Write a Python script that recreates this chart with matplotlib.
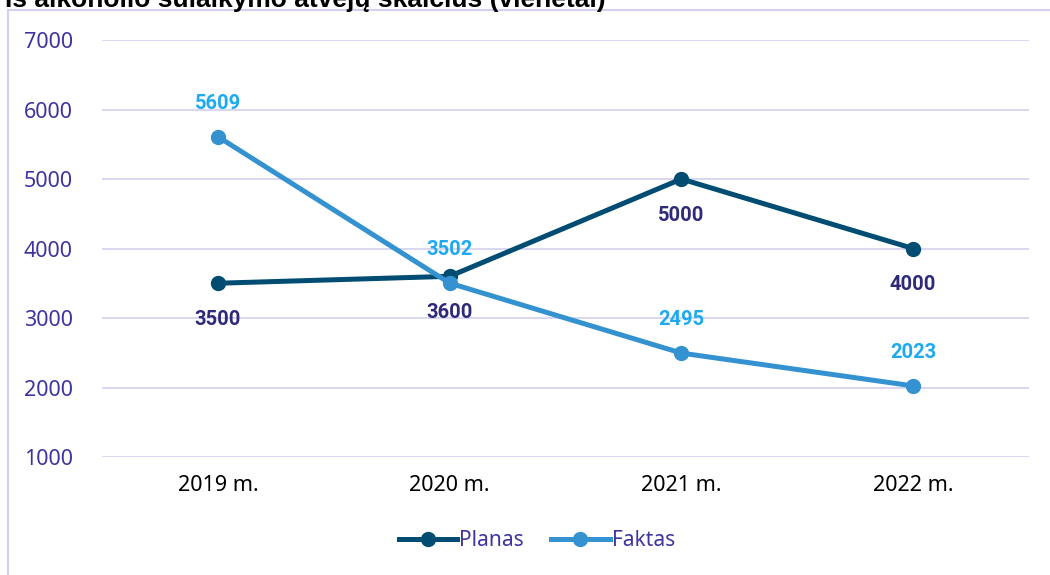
import matplotlib
matplotlib.use("Agg")
import matplotlib.pyplot as plt
from matplotlib.lines import Line2D

categories = ["2019 m.", "2020 m.", "2021 m.", "2022 m."]
planas = [3500, 3600, 5000, 4000]
faktas = [5609, 3502, 2495, 2023]
yticks = [1000, 2000, 3000, 4000, 5000, 6000, 7000]
title = "Iš alkoholio sulaikymo atvejų skaičius (vienetai)"

plt.rcParams['font.family'] = ['Noto Sans', 'DejaVu Sans']

c_plan = "#004C72"
c_fakt = "#3592D0"
c_plan_lbl = "#2E2A7A"
c_fakt_lbl = "#1EAAF1"
c_grid = "#D3CFEE"
c_tick = "#3D35A0"

fig = plt.figure(figsize=(10.5, 5.75), dpi=100)
ax = fig.add_axes([102/1050, (575-457)/575, 927/1050, 417/575])

x = list(range(len(categories)))
ax.plot(x, planas, color=c_plan, lw=3.6, marker='o', ms=10, solid_capstyle='round', zorder=3)
ax.plot(x, faktas, color=c_fakt, lw=3.6, marker='o', ms=10, solid_capstyle='round', zorder=4)

lbl_font = ['Roboto', 'DejaVu Sans']
for xi, v in zip(x, planas):
    ax.annotate(f"{v}", (xi, v), xytext=(0, -26), textcoords='offset points',
                ha='center', va='center', fontsize=14.5, fontweight='bold', color=c_plan_lbl,
                family=lbl_font)
for xi, v in zip(x, faktas):
    ax.annotate(f"{v}", (xi, v), xytext=(0, 24), textcoords='offset points',
                ha='center', va='center', fontsize=14.5, fontweight='bold', color=c_fakt_lbl,
                family=lbl_font)

ax.set_xlim(-0.5, 3.5)
ax.set_ylim(1000, 7000)
ax.set_yticks(yticks)
ax.set_yticklabels([str(t) for t in yticks])
ax.set_xticks(x)
ax.set_xticklabels(categories)
ax.tick_params(axis='y', length=0, pad=21, labelsize=15.5, labelcolor=c_tick)
ax.tick_params(axis='x', length=0, pad=13, labelsize=15.5, labelcolor='#000000')
ax.grid(axis='y', color=c_grid, lw=1.2)
ax.set_axisbelow(True)
for s in ax.spines.values():
    s.set_visible(False)

handles = [Line2D([0], [0], color=c_plan, lw=3.6, marker='o', ms=10),
           Line2D([0], [0], color=c_fakt, lw=3.6, marker='o', ms=10)]
leg = fig.legend(handles, ["Planas", "Faktas"], loc='center', bbox_to_anchor=(537/1050, 1-541/575),
                 ncol=2, frameon=False, fontsize=15, handlelength=2.8, handletextpad=0.1,
                 columnspacing=1.3)
for t in leg.get_texts():
    t.set_color(c_tick)

# outer chart border (left and top)
fig.add_artist(Line2D([8/1050, 8/1050], [0, 1-10/575], color=c_grid, lw=1.5, transform=fig.transFigure))
fig.add_artist(Line2D([8/1050, 1], [1-10/575, 1-10/575], color=c_grid, lw=1.5, transform=fig.transFigure))

fig.text(5/1050, 1-7/575, title, ha='left', va='baseline', fontsize=19, fontweight='bold',
         family=['Liberation Sans', 'DejaVu Sans'], color='#000000')

fig.savefig("out.png", dpi=100, facecolor='white')
